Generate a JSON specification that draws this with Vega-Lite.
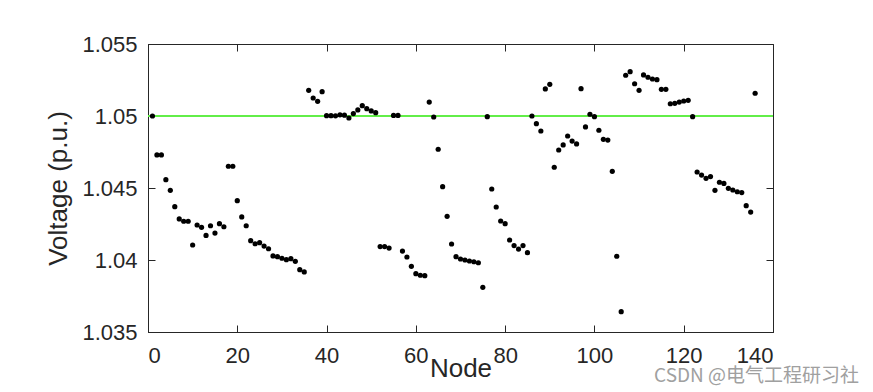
{
  "$schema": "https://vega.github.io/schema/vega-lite/v6.json",
  "width": 625,
  "height": 288,
  "autosize": "none",
  "padding": {"left": 148, "top": 44, "right": 100, "bottom": 60},
  "background": "white",
  "config": {
    "font": "Liberation Sans",
    "view": {"stroke": "#262626", "strokeWidth": 1},
    "axis": {
      "grid": false,
      "domainColor": "#262626",
      "tickColor": "#262626",
      "labelColor": "#262626",
      "titleColor": "#262626",
      "labelFont": "Liberation Sans",
      "titleFont": "Liberation Sans",
      "labelFontSize": 22,
      "titleFontSize": 26,
      "titleFontWeight": "normal",
      "tickSize": -7
    }
  },
  "title": {
    "text": "CSDN @电气工程研习社",
    "orient": "bottom",
    "anchor": "end",
    "font": "Noto Sans CJK SC",
    "fontSize": 19,
    "fontWeight": "normal",
    "color": "#a0a0a0",
    "dx": 85,
    "dy": -18
  },
  "data": {
    "values": [
      {"node": 1, "v": 1.05}, {"node": 2, "v": 1.0473}, {"node": 3, "v": 1.0473}, {"node": 4, "v": 1.04558},
      {"node": 5, "v": 1.04484}, {"node": 6, "v": 1.0437}, {"node": 7, "v": 1.04285}, {"node": 8, "v": 1.04269},
      {"node": 9, "v": 1.04269}, {"node": 10, "v": 1.04104}, {"node": 11, "v": 1.04243}, {"node": 12, "v": 1.04227},
      {"node": 13, "v": 1.04171}, {"node": 14, "v": 1.04238}, {"node": 15, "v": 1.04187}, {"node": 16, "v": 1.04252},
      {"node": 17, "v": 1.04231}, {"node": 18, "v": 1.04651}, {"node": 19, "v": 1.04651}, {"node": 20, "v": 1.04412},
      {"node": 21, "v": 1.04299}, {"node": 22, "v": 1.04238}, {"node": 23, "v": 1.04134}, {"node": 24, "v": 1.04113},
      {"node": 25, "v": 1.0412}, {"node": 26, "v": 1.04097}, {"node": 27, "v": 1.04078}, {"node": 28, "v": 1.04028},
      {"node": 29, "v": 1.04023}, {"node": 30, "v": 1.04012}, {"node": 31, "v": 1.04002}, {"node": 32, "v": 1.04009},
      {"node": 33, "v": 1.03991}, {"node": 34, "v": 1.03933}, {"node": 35, "v": 1.03917}, {"node": 36, "v": 1.05178},
      {"node": 37, "v": 1.05125}, {"node": 38, "v": 1.05102}, {"node": 39, "v": 1.05169}, {"node": 40, "v": 1.05002},
      {"node": 41, "v": 1.05002}, {"node": 42, "v": 1.05001}, {"node": 43, "v": 1.05008}, {"node": 44, "v": 1.05006},
      {"node": 45, "v": 1.04986}, {"node": 46, "v": 1.05017}, {"node": 47, "v": 1.05042}, {"node": 48, "v": 1.05072},
      {"node": 49, "v": 1.05051}, {"node": 50, "v": 1.05035}, {"node": 51, "v": 1.05023}, {"node": 52, "v": 1.04093},
      {"node": 53, "v": 1.04093}, {"node": 54, "v": 1.04083}, {"node": 55, "v": 1.05004}, {"node": 56, "v": 1.05004},
      {"node": 57, "v": 1.04062}, {"node": 58, "v": 1.04021}, {"node": 59, "v": 1.03956}, {"node": 60, "v": 1.03905},
      {"node": 61, "v": 1.03894}, {"node": 62, "v": 1.03891}, {"node": 63, "v": 1.05097}, {"node": 64, "v": 1.04993},
      {"node": 65, "v": 1.04769}, {"node": 66, "v": 1.04509}, {"node": 67, "v": 1.04303}, {"node": 68, "v": 1.04111},
      {"node": 69, "v": 1.04023}, {"node": 70, "v": 1.04007}, {"node": 71, "v": 1.04}, {"node": 72, "v": 1.03993},
      {"node": 73, "v": 1.03988}, {"node": 74, "v": 1.03981}, {"node": 75, "v": 1.0381}, {"node": 76, "v": 1.04995},
      {"node": 77, "v": 1.04493}, {"node": 78, "v": 1.04368}, {"node": 79, "v": 1.04271}, {"node": 80, "v": 1.04252},
      {"node": 81, "v": 1.04139}, {"node": 82, "v": 1.041}, {"node": 83, "v": 1.04076}, {"node": 84, "v": 1.041},
      {"node": 85, "v": 1.04051}, {"node": 86, "v": 1.05}, {"node": 87, "v": 1.04947}, {"node": 88, "v": 1.04896},
      {"node": 89, "v": 1.05188}, {"node": 90, "v": 1.0522}, {"node": 91, "v": 1.04644}, {"node": 92, "v": 1.04764},
      {"node": 93, "v": 1.04799}, {"node": 94, "v": 1.04861}, {"node": 95, "v": 1.04826}, {"node": 96, "v": 1.04806},
      {"node": 97, "v": 1.0519}, {"node": 98, "v": 1.04924}, {"node": 99, "v": 1.05012}, {"node": 100, "v": 1.04995},
      {"node": 101, "v": 1.04901}, {"node": 102, "v": 1.04838}, {"node": 103, "v": 1.04833}, {"node": 104, "v": 1.04616},
      {"node": 105, "v": 1.04026}, {"node": 106, "v": 1.03641}, {"node": 107, "v": 1.05283}, {"node": 108, "v": 1.05308},
      {"node": 109, "v": 1.05224}, {"node": 110, "v": 1.05178}, {"node": 111, "v": 1.05285}, {"node": 112, "v": 1.05269},
      {"node": 113, "v": 1.05257}, {"node": 114, "v": 1.05252}, {"node": 115, "v": 1.05185}, {"node": 116, "v": 1.05185},
      {"node": 117, "v": 1.05085}, {"node": 118, "v": 1.05088}, {"node": 119, "v": 1.05097}, {"node": 120, "v": 1.05104},
      {"node": 121, "v": 1.05109}, {"node": 122, "v": 1.04995}, {"node": 123, "v": 1.04611}, {"node": 124, "v": 1.0459},
      {"node": 125, "v": 1.04567}, {"node": 126, "v": 1.04579}, {"node": 127, "v": 1.04484}, {"node": 128, "v": 1.0454},
      {"node": 129, "v": 1.04532}, {"node": 130, "v": 1.04498}, {"node": 131, "v": 1.04486}, {"node": 132, "v": 1.04474},
      {"node": 133, "v": 1.04468}, {"node": 134, "v": 1.04377}, {"node": 135, "v": 1.04333}, {"node": 136, "v": 1.05158}
    ]
  },
  "layer": [
    {
      "mark": {"type": "rule", "color": "#62ee48", "strokeWidth": 2.2},
      "encoding": {"y": {"datum": 1.05, "axis": null}}
    },
    {
      "mark": {"type": "point", "filled": true, "color": "black", "opacity": 1, "size": 27},
      "encoding": {
        "x": {
          "field": "node", "type": "quantitative",
          "scale": {"domain": [0, 140], "nice": false, "zero": false},
          "axis": {"orient": "bottom", "values": [0, 20, 40, 60, 80, 100, 120, 140], "title": "Node", "labelPadding": 20, "titlePadding": -11}
        },
        "y": {
          "field": "v", "type": "quantitative",
          "scale": {"domain": [1.035, 1.055], "nice": false, "zero": false},
          "axis": {"orient": "left", "values": [1.035, 1.04, 1.045, 1.05, 1.055], "format": "~g", "title": "Voltage (p.u.)", "labelPadding": 18, "titlePadding": 10}
        }
      }
    },
    {
      "mark": {"type": "point", "filled": true, "opacity": 0, "size": 1},
      "encoding": {
        "x": {
          "field": "node", "type": "quantitative",
          "axis": {"orient": "top", "values": [0, 20, 40, 60, 80, 100, 120, 140], "labels": false, "title": null, "domain": false}
        },
        "y": {
          "field": "v", "type": "quantitative",
          "axis": {"orient": "right", "values": [1.035, 1.04, 1.045, 1.05, 1.055], "labels": false, "title": null, "domain": false}
        }
      }
    }
  ],
  "resolve": {"axis": {"x": "independent", "y": "independent"}}
}
